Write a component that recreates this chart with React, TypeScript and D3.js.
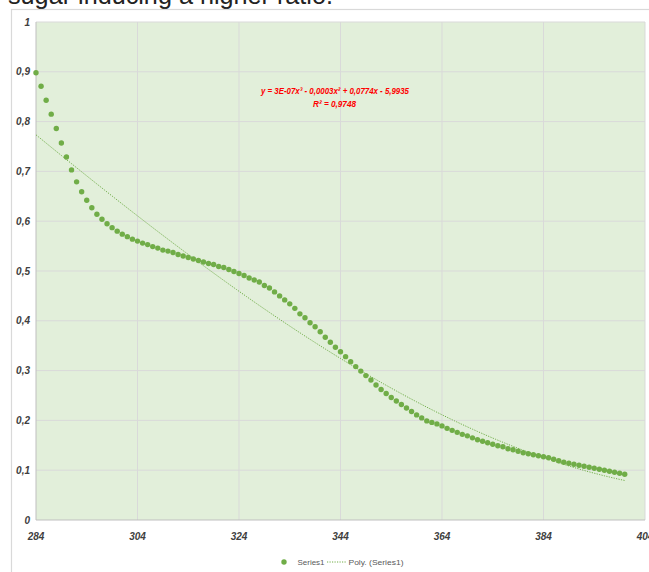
import React, { useMemo } from "react";
import * as d3 from "d3";

const xStart = 284;
const seriesValues: number[] = [
  0.898, 0.871, 0.843, 0.815, 0.786, 0.757, 0.729, 0.703, 0.679, 0.659,
  0.642, 0.627, 0.614, 0.604, 0.595, 0.587, 0.580, 0.574, 0.569, 0.564,
  0.560, 0.556, 0.553, 0.549, 0.546, 0.542, 0.540, 0.537, 0.533, 0.530,
  0.527, 0.524, 0.521, 0.518, 0.515, 0.513, 0.509, 0.507, 0.503, 0.499,
  0.495, 0.491, 0.486, 0.482, 0.478, 0.471, 0.466, 0.458, 0.450, 0.442,
  0.434, 0.425, 0.414, 0.406, 0.396, 0.388, 0.378, 0.367, 0.357, 0.347,
  0.338, 0.328, 0.318, 0.308, 0.299, 0.290, 0.281, 0.271, 0.262, 0.254,
  0.246, 0.239, 0.232, 0.225, 0.218, 0.211, 0.205, 0.199, 0.196, 0.193,
  0.189, 0.184, 0.180, 0.176, 0.172, 0.169, 0.165, 0.161, 0.158, 0.155,
  0.152, 0.149, 0.147, 0.143, 0.141, 0.138, 0.135, 0.133, 0.131, 0.129,
  0.127, 0.125, 0.122, 0.119, 0.116, 0.114, 0.112, 0.110, 0.108, 0.106,
  0.104, 0.102, 0.100, 0.098, 0.096, 0.094, 0.092,
];
const xTicks: number[] = [284, 304, 324, 344, 364, 384, 404];
const yTicks: number[] = [0, 0.1, 0.2, 0.3, 0.4, 0.5, 0.6, 0.7, 0.8, 0.9, 1];
const titleText = "sugar inducing a higher ratio.";
const equationText = "y = 3E-07x³ - 0,0003x² + 0,0774x - 5,9935";
const r2Text = "R² = 0,9748";
const legendLabels = ["Series1", "Poly. (Series1)"];

const GREEN = "#70ad47";

function cubicFit(xs: number[], ys: number[]) {
  const c = 344, s = 60;
  const n = 4;
  const A: number[][] = Array.from({ length: n }, () => new Array(n + 1).fill(0));
  xs.forEach((x, i) => {
    const t = (x - c) / s;
    const p = [1, t, t * t, t * t * t];
    for (let r = 0; r < n; r++) {
      for (let k = 0; k < n; k++) A[r][k] += p[r] * p[k];
      A[r][n] += p[r] * ys[i];
    }
  });
  for (let i = 0; i < n; i++) {
    let piv = i;
    for (let r = i + 1; r < n; r++) if (Math.abs(A[r][i]) > Math.abs(A[piv][i])) piv = r;
    [A[i], A[piv]] = [A[piv], A[i]];
    for (let r = 0; r < n; r++) {
      if (r === i) continue;
      const f = A[r][i] / A[i][i];
      for (let k = i; k <= n; k++) A[r][k] -= f * A[i][k];
    }
  }
  const coef = A.map((row, i) => row[n] / row[i]);
  return (x: number) => {
    const t = (x - c) / s;
    return coef[0] + coef[1] * t + coef[2] * t * t + coef[3] * t * t * t;
  };
}

export default function App() {
  const W = 649, H = 572;
  const x = d3.scaleLinear().domain([284, 404]).range([36, 645]);
  const y = d3.scaleLinear().domain([0, 1]).range([520, 22]);
  const data = seriesValues.map((v, i) => ({ x: xStart + i, y: v }));
  const fit = useMemo(() => cubicFit(data.map((d) => d.x), data.map((d) => d.y)), []);
  const trend = d3.range(xStart, xStart + seriesValues.length - 1 + 0.01, 0.5).map((xv) => [xv, fit(xv)] as [number, number]);
  const line = d3.line().x((d) => x(d[0])).y((d) => y(d[1]));
  const tickFont = "'Liberation Sans Narrow', 'Arial Narrow', 'Liberation Sans', Arial, sans-serif";

  return (
    <svg width={W} height={H} style={{ position: "absolute", left: 0, top: 0, background: "#fff" }}>
      <text x={8} y={4} fontFamily="'Liberation Sans', Arial, sans-serif" fontSize={25} fill="#222" textLength={325} lengthAdjust="spacingAndGlyphs">
        {titleText}
      </text>
      <rect x={11.5} y={9.5} width={700} height={700} fill="none" stroke="#d9d9d9" strokeWidth={1.2} />
      <rect x={x(284)} y={y(1)} width={x(404) - x(284)} height={y(0) - y(1)} fill="#e2efda" />
      {yTicks.filter((t) => t > 0).map((t) => (
        <line key={"hy" + t} x1={x(284)} x2={x(404)} y1={y(t)} y2={y(t)} stroke="#d9d9d9" strokeWidth={1} />
      ))}
      {xTicks.filter((t) => t > 284).map((t) => (
        <line key={"vx" + t} x1={x(t)} x2={x(t)} y1={y(0)} y2={y(1)} stroke="#d9d9d9" strokeWidth={1} />
      ))}
      <line x1={x(284)} x2={x(284)} y1={y(0)} y2={y(1)} stroke="#bfbfbf" strokeWidth={1} />
      <line x1={x(284)} x2={x(404)} y1={y(0)} y2={y(0)} stroke="#bfbfbf" strokeWidth={1.2} />
      {yTicks.map((t) => (
        <text key={"yl" + t} x={30} y={y(t) + 3.5} textAnchor="end" fontFamily={tickFont} fontWeight="bold" fontStyle="italic" fontSize={10} fill="#404040">
          {t === 0 ? "0" : t === 1 ? "1" : d3.format(".1f")(t).replace(".", ",")}
        </text>
      ))}
      {xTicks.map((t) => (
        <text key={"xl" + t} x={x(t)} y={540} textAnchor="middle" fontFamily={tickFont} fontWeight="bold" fontStyle="italic" fontSize={10} fill="#404040">
          {t}
        </text>
      ))}
      <path d={line(trend) || ""} fill="none" stroke={GREEN} strokeWidth={1} strokeDasharray="1.2,1.3" />
      {data.map((d) => (
        <circle key={d.x} cx={x(d.x)} cy={y(d.y)} r={2.7} fill={GREEN} />
      ))}
      <text x={335} y={94} textAnchor="middle" fontFamily={tickFont} fontWeight="bold" fontStyle="italic" fontSize={9} fill="#ff0000" textLength={148} lengthAdjust="spacingAndGlyphs">
        {equationText}
      </text>
      <text x={334.5} y={107} textAnchor="middle" fontFamily={tickFont} fontWeight="bold" fontStyle="italic" fontSize={9} fill="#ff0000" textLength={43} lengthAdjust="spacingAndGlyphs">
        {r2Text}
      </text>
      <circle cx={284} cy={562} r={2.7} fill={GREEN} />
      <text x={297.5} y={565} fontFamily={tickFont} fontSize={8} fill="#595959" textLength={27} lengthAdjust="spacingAndGlyphs">
        {legendLabels[0]}
      </text>
      <line x1={327} x2={346} y1={562} y2={562} stroke={GREEN} strokeWidth={1} strokeDasharray="1.2,1.3" />
      <text x={348.5} y={565} fontFamily={tickFont} fontSize={8} fill="#595959" textLength={55} lengthAdjust="spacingAndGlyphs">
        {legendLabels[1]}
      </text>
    </svg>
  );
}
